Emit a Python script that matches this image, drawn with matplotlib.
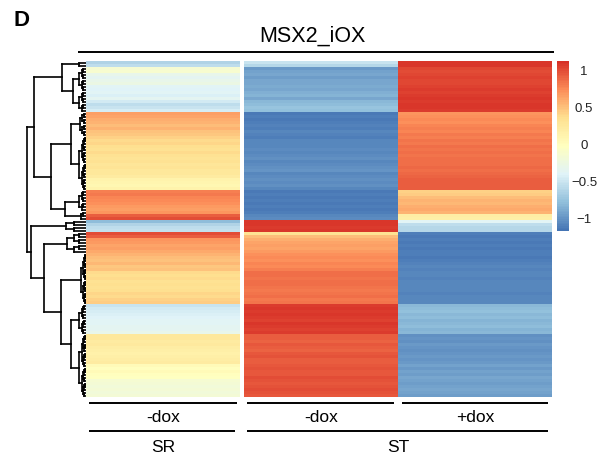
import numpy as np
import matplotlib
matplotlib.use("Agg")
import matplotlib.pyplot as plt
from matplotlib.colors import LinearSegmentedColormap
from matplotlib import transforms

plt.rcParams['font.family'] = ['Liberation Sans', 'DejaVu Sans']

# ---------------- data ----------------
title = "MSX2_iOX"
col_labels = ["-dox", "-dox", "+dox"]
group_labels = ["SR", "ST"]
cbar_ticks = [1, 0.5, 0, -0.5, -1]
cbar_ticklabels = ["1", "0.5", "0", "\u22120.5", "\u22121"]

sr_dox = [
    -0.62, -0.55,
    -0.12, -0.10, -0.28, -0.33, -0.30, -0.25, -0.35, -0.38,
    -0.36, -0.40, -0.33, -0.45, -0.55, -0.50, -0.42,
    0.68, 0.66, 0.62, 0.60, 0.55, 0.58, 0.52, 0.50,
    0.45, 0.40, 0.42, 0.38, 0.36, 0.40, 0.35, 0.33, 0.36, 0.32, 0.34, 0.30, 0.28, 0.25, 0.15, 0.12, 0.10, 0.14,
    0.82, 0.85, 0.80, 0.78, 0.74, 0.70, 0.68,
    0.72, 0.95, 1.02,
    -0.78, -0.62, -0.55, -0.52,
    1.02, 0.95, 0.72, 0.70, 0.66, 0.68, 0.64,
    0.58, 0.55, 0.52, 0.56, 0.50, 0.52, 0.40, 0.38, 0.40, 0.36, 0.38, 0.35, 0.37, 0.42, 0.40, 0.45, 0.48,
    -0.50, -0.45, -0.42, -0.40, -0.38, -0.36, -0.35, -0.33, -0.34, -0.30,
    0.30, 0.28, 0.25, 0.27, 0.22, 0.20, 0.18, 0.20, 0.22, 0.24, 0.06, 0.02, 0.05, 0.00, -0.02,
    -0.12, -0.16, -0.18, -0.15, -0.18, -0.16,
]
st_minus_dox = [
    -0.50, -0.60,
    -0.95, -0.92, -0.90, -0.93, -0.88, -0.90, -0.86, -0.88,
    -0.85, -0.82, -0.88, -0.80, -0.78, -0.72, -0.76,
    -1.12, -1.10, -1.12, -1.10, -1.08, -1.10, -1.06, -1.08,
    -1.10, -1.06, -1.04, -1.06, -1.02, -1.05, -1.03, -1.00, -1.04, -1.02, -1.00, -0.98, -1.04, -1.02, -1.00, -1.02, -1.00, -1.04,
    -1.12, -1.10, -1.12, -1.10, -1.12, -1.10, -1.12,
    -1.10, -1.05, -1.02,
    1.12, 1.13, 1.10, 1.12,
    0.35, 0.55, 0.62, 0.66, 0.68, 0.65, 0.70,
    0.75, 0.78, 0.76, 0.80, 0.78, 0.82, 0.88, 0.90, 0.86, 0.88, 0.90, 0.86, 0.84, 0.86, 0.88, 0.85, 0.87,
    1.10, 1.12, 1.10, 1.12, 1.10, 1.08, 1.12, 1.10, 1.08, 1.10,
    0.95, 0.96, 0.94, 0.98, 0.96, 0.94, 0.98, 1.00, 0.96, 0.95, 0.98, 1.00, 0.97, 0.99, 1.02,
    1.00, 0.98, 1.00, 1.02, 1.00, 0.98,
]
st_plus_dox = [
    1.12, 1.12,
    1.05, 1.02, 1.04, 1.08, 1.05, 1.06, 1.08, 1.10,
    1.08, 1.10, 1.12, 1.10, 1.12, 1.12, 1.10,
    0.72, 0.74, 0.78, 0.76, 0.80, 0.82, 0.80, 0.84,
    0.82, 0.86, 0.84, 0.88, 0.86, 0.88, 0.86, 0.90, 0.88, 0.90, 0.92, 0.90, 0.92, 0.94, 0.95, 0.96, 0.95, 0.96,
    0.45, 0.48, 0.55, 0.58, 0.56, 0.62, 0.64,
    0.60, 0.22, 0.20,
    -0.35, -0.55, -0.58, -0.60,
    -1.10, -1.12, -1.10, -1.12, -1.10, -1.12, -1.10,
    -1.10, -1.12, -1.10, -1.08, -1.05, -1.08, -1.06, -1.05, -1.08, -1.06, -1.04, -1.06, -1.05, -1.08, -1.06, -1.04, -1.06,
    -0.80, -0.78, -0.76, -0.80, -0.78, -0.82, -0.80, -0.78, -0.82, -0.80,
    -1.00, -0.98, -1.00, -0.96, -0.98, -1.00, -0.98, -0.96, -0.98, -0.95, -0.92, -0.95, -0.92, -0.94, -0.90,
    -0.92, -0.94, -0.92, -0.90, -0.92, -0.94,
]

# row clusters (blocks of consecutive rows) and their internal merge height
block_sizes = [2, 8, 7, 8, 18, 7, 3, 4, 7, 17, 10, 21]
block_inner = [0.12, 0.12, 0.12, 0.10, 0.12, 0.12, 0.08, 0.34, 0.33, 0.08, 0.12, 0.12]
# dendrogram over blocks: (height, left, right); ints are block indices
block_tree = (1.00,
              (0.88,
               (0.40, 0, (0.22, 1, 2)),
               (0.59, (0.26, 3, 4), (0.36, 5, 6))),
              (0.93,
               7,
               (0.72, 8, (0.43, 9, (0.26, 10, 11)))))

# ---------------- figure ----------------
W, H = 609, 459
fig = plt.figure(figsize=(W / 100, H / 100), dpi=100)

def fx(px):
    return px / W

def fy(py):
    return 1 - py / H

hm_l, hm_r, hm_t, hm_b = 86, 552, 61, 397
ax = fig.add_axes([fx(hm_l), fy(hm_b), fx(hm_r - hm_l), (hm_b - hm_t) / H])

colors7 = ["#4575B4", "#91BFDB", "#E0F3F8", "#FFFFBF", "#FEE090", "#FC8D59", "#D73027"]
cmap = LinearSegmentedColormap.from_list("rdylbu_r", colors7, N=100)
vmax = 2 / np.sqrt(3)
vmin = -vmax

data = np.array([sr_dox, st_minus_dox, st_plus_dox]).T
nrow = data.shape[0]
gap = 4 / 154
yedges = np.arange(nrow + 1)
ax.pcolormesh([0, 1], yedges, data[:, :1], cmap=cmap, vmin=vmin, vmax=vmax,
              shading="flat", edgecolors="none", antialiased=False)
ax.pcolormesh([1 + gap, 2 + gap, 3 + gap], yedges, data[:, 1:], cmap=cmap,
              vmin=vmin, vmax=vmax, shading="flat", edgecolors="none", antialiased=False)
ax.set_xlim(0, 3 + gap)
ax.set_ylim(nrow, 0)
ax.axis("off")

# annotations (x in data, y in axes fraction)
tr = transforms.blended_transform_factory(ax.transData, ax.transAxes)
def yfrac(py):
    return (hm_b - py) / (hm_b - hm_t)

lw = 1.4
# top
ax.plot([-0.052, 3 + gap + 0.013], [yfrac(52)] * 2, color="black", lw=lw,
        transform=tr, clip_on=False, solid_capstyle="butt")
ax.text((312 - hm_l) / 154, yfrac(42), title, transform=tr, ha="center", va="baseline",
        fontsize=15.5)
# column lines + labels
col_centers = [0.5, 1.5 + gap, 2.5 + gap]
col_spans = [(0.02, 0.98), (1 + gap + 0.02, 2.0), (2 + gap + 0.026, 3.0)]
for (a, b), c, lab in zip(col_spans, col_centers, col_labels):
    ax.plot([a, b], [yfrac(403)] * 2, color="black", lw=lw, transform=tr,
            clip_on=False, solid_capstyle="butt")
    ax.text(c, yfrac(418), lab, transform=tr, ha="center", va="center", fontsize=12.5)
grp_spans = [(0.02, 0.97), (1 + gap + 0.02, 3.0)]
grp_centers = [0.5, 2 + gap]
for (a, b), c, lab in zip(grp_spans, grp_centers, group_labels):
    ax.plot([a, b], [yfrac(431)] * 2, color="black", lw=lw, transform=tr,
            clip_on=False, solid_capstyle="butt")
    ax.text(c, yfrac(447), lab, transform=tr, ha="center", va="center", fontsize=12.5)

# ---------------- dendrogram ----------------
dax = fig.add_axes([fx(20), fy(hm_b), fx(hm_l - 20), (hm_b - hm_t) / H])
h_left = 1 + 7 / 59
dax.set_xlim(h_left, 0)
dax.set_ylim(nrow, 0)
dax.axis("off")

starts = np.concatenate([[0], np.cumsum(block_sizes)[:-1]])

def build_block(start, n, h):
    if n == 1:
        return ("leaf", start)
    k = (n + 1) // 2
    return (h, build_block(start, k, h * 0.6), build_block(start + k, n - k, h * 0.6))

def expand(node):
    if isinstance(node, int):
        return build_block(int(starts[node]), block_sizes[node], block_inner[node])
    h, l, r = node
    return (h, expand(l), expand(r))

full_tree = expand(block_tree)

segs = []
def draw(node):
    if node[0] == "leaf":
        return node[1] + 0.5, 0.0
    h, l, r = node
    yl, hl = draw(l)
    yr, hr = draw(r)
    segs.append(([hl, h], [yl, yl]))
    segs.append(([hr, h], [yr, yr]))
    segs.append(([h, h], [yl, yr]))
    return (yl + yr) / 2, h

draw(full_tree)
for xs, ys in segs:
    dax.plot(xs, ys, color="black", lw=1.2, solid_capstyle="projecting")

# ---------------- colorbar ----------------
cb_l, cb_r, cb_t, cb_b = 557, 569, 61, 231
cax = fig.add_axes([fx(cb_l), fy(cb_b), fx(cb_r - cb_l), (cb_b - cb_t) / H])
levels = np.linspace(vmin, vmax, 101)
cax.pcolormesh([0, 1], levels, ((levels[:-1] + levels[1:]) / 2)[:, None],
               cmap=cmap, vmin=vmin, vmax=vmax, shading="flat", antialiased=False)
cax.set_xlim(0, 1)
cax.set_ylim(vmin, vmax)
cax.axis("off")
ctr = transforms.blended_transform_factory(cax.transAxes, cax.transData)
for t, lab in zip(cbar_ticks, cbar_ticklabels):
    cax.text((584 - cb_l) / (cb_r - cb_l), t, lab, transform=ctr, ha="center",
             va="center", fontsize=9.5, color="#222222")

fig.text(fx(13), fy(26), "D", fontsize=16, fontweight="bold", ha="left", va="baseline")

fig.savefig("out.png", dpi=100)
